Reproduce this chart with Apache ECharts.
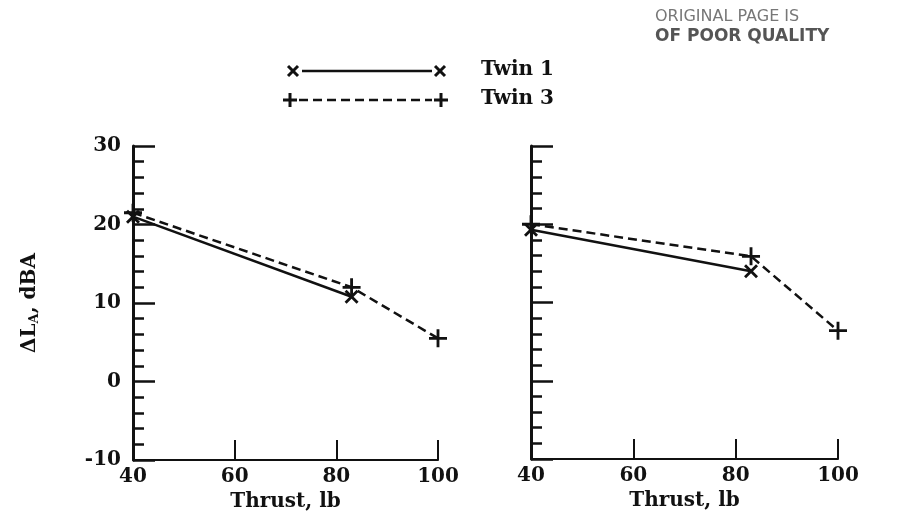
<!DOCTYPE html>
<html>
<head>
<meta charset="utf-8">
<script src="https://cdn.jsdelivr.net/npm/echarts@6/dist/echarts.min.js"></script>
<style>
  html, body { margin: 0; padding: 0; background: #fff; }
  #chart { width: 897px; height: 528px; }
</style>
</head>
<body>
<div id="chart"></div>
<script>
// data
var thrust = [40, 83, 100];
var twin1Left = [21, 10.8];
var twin3Left = [21.5, 12, 5.5];
var twin1Right = [19.3, 14];
var twin3Right = [20, 15.9, 6.4];
var xTicks = [40, 60, 80, 100];
var yTicks = [-10, 0, 10, 20, 30];

var FONT = 'DejaVu Serif';
var INK = '#111';

// marker shapes
var PLUS = 'path://M8,0h3v8h8v3h-8v8h-3v-8h-8v-3h8z';
var CROSS = 'path://M0,2L2,0L7,5L12,0L14,2L9,7L14,12L12,14L7,9L2,14L0,12L5,7z';

function pairs(ys) {
  return ys.map(function (y, i) { return [thrust[i], y]; });
}

var chart = echarts.init(document.getElementById('chart'));

function xAxisOf(idx) {
  return {
    type: 'value', gridIndex: idx,
    min: xTicks[0], max: xTicks[xTicks.length - 1], interval: 20,
    name: 'Thrust, lb', nameLocation: 'middle', nameGap: 28,
    nameTextStyle: { fontFamily: FONT, fontWeight: 'bold', fontSize: 20, color: INK },
    axisLine: { onZero: false, lineStyle: { color: INK, width: 2 } },
    axisTick: { inside: true, length: 20, lineStyle: { color: INK, width: 2 } },
    axisLabel: { margin: 7, fontFamily: FONT, fontWeight: 'bold', fontSize: 20, color: INK },
    splitLine: { show: false }
  };
}

function yAxisOf(idx, labels) {
  return {
    type: 'value', gridIndex: idx,
    min: yTicks[0], max: yTicks[yTicks.length - 1], interval: 10,
    name: labels ? '{a|ΔL}{s|A}{a|, dBA}' : '',
    nameLocation: 'middle', nameGap: 92, nameRotate: 90,
    nameTextStyle: {
      rich: {
        a: { fontFamily: FONT, fontWeight: 'bold', fontSize: 20, color: INK },
        s: { fontFamily: FONT, fontWeight: 'bold', fontSize: 13, color: INK, padding: [10, 0, 0, 0] }
      }
    },
    axisLine: { show: true, onZero: false, lineStyle: { color: INK, width: 3 } },
    axisTick: { inside: true, length: 22, lineStyle: { color: INK, width: 2.5 } },
    minorTick: { show: true, splitNumber: 5, length: 11, lineStyle: { color: INK, width: 2.5 } },
    axisLabel: { show: labels, margin: 12, fontFamily: FONT, fontWeight: 'bold', fontSize: 20, color: INK },
    splitLine: { show: false }
  };
}

function series(name, ys, idx, dashed) {
  return {
    name: name, type: 'line', xAxisIndex: idx, yAxisIndex: idx,
    data: pairs(ys),
    symbol: dashed ? PLUS : CROSS,
    symbolSize: dashed ? 18 : 14,
    showSymbol: true,
    itemStyle: { color: INK },
    lineStyle: { color: INK, width: 2.5, type: dashed ? [9, 5] : 'solid' },
    z: dashed ? 3 : 2,
    animation: false
  };
}

// hand drawn key, top middle
function keyCross(cx, cy) {
  return [
    { type: 'line', shape: { x1: cx - 5, y1: cy - 5, x2: cx + 5, y2: cy + 5 }, style: { stroke: INK, lineWidth: 3 } },
    { type: 'line', shape: { x1: cx - 5, y1: cy + 5, x2: cx + 5, y2: cy - 5 }, style: { stroke: INK, lineWidth: 3 } }
  ];
}
function keyPlus(cx, cy) {
  return [
    { type: 'line', shape: { x1: cx - 7, y1: cy, x2: cx + 7, y2: cy }, style: { stroke: INK, lineWidth: 3 } },
    { type: 'line', shape: { x1: cx, y1: cy - 7, x2: cx, y2: cy + 7 }, style: { stroke: INK, lineWidth: 3 } }
  ];
}

var key = [].concat(
  keyCross(293, 71), keyCross(440, 71),
  [{ type: 'line', shape: { x1: 302, y1: 71, x2: 432, y2: 71 }, style: { stroke: INK, lineWidth: 2.5 } }],
  keyPlus(290, 100), keyPlus(441, 100),
  [{ type: 'line', shape: { x1: 299, y1: 100, x2: 432, y2: 100 }, style: { stroke: INK, lineWidth: 2.5, lineDash: [9, 5] } }],
  [
    { type: 'text', left: 481, top: 60, style: { text: 'Twin 1', font: 'bold 20px "DejaVu Serif"', fill: INK } },
    { type: 'text', left: 481, top: 89, style: { text: 'Twin 3', font: 'bold 20px "DejaVu Serif"', fill: INK } },
    { type: 'text', left: 655, top: 9, style: { text: 'ORIGINAL PAGE IS', font: '16px "DejaVu Sans"', fill: '#777' } },
    { type: 'text', left: 655, top: 28, style: { text: 'OF POOR QUALITY', font: 'bold 17px "DejaVu Sans"', fill: '#555' } }
  ]
);

chart.setOption({
  backgroundColor: '#fff',
  animation: false,
  grid: [
    { left: 133, top: 146, width: 305, height: 314 },
    { left: 531, top: 146, width: 307, height: 313 }
  ],
  xAxis: [xAxisOf(0), xAxisOf(1)],
  yAxis: [yAxisOf(0, true), yAxisOf(1, false)],
  series: [
    series('Twin 1', twin1Left, 0, false),
    series('Twin 3', twin3Left, 0, true),
    series('Twin 1', twin1Right, 1, false),
    series('Twin 3', twin3Right, 1, true)
  ],
  graphic: key
});
</script>
</body>
</html>
